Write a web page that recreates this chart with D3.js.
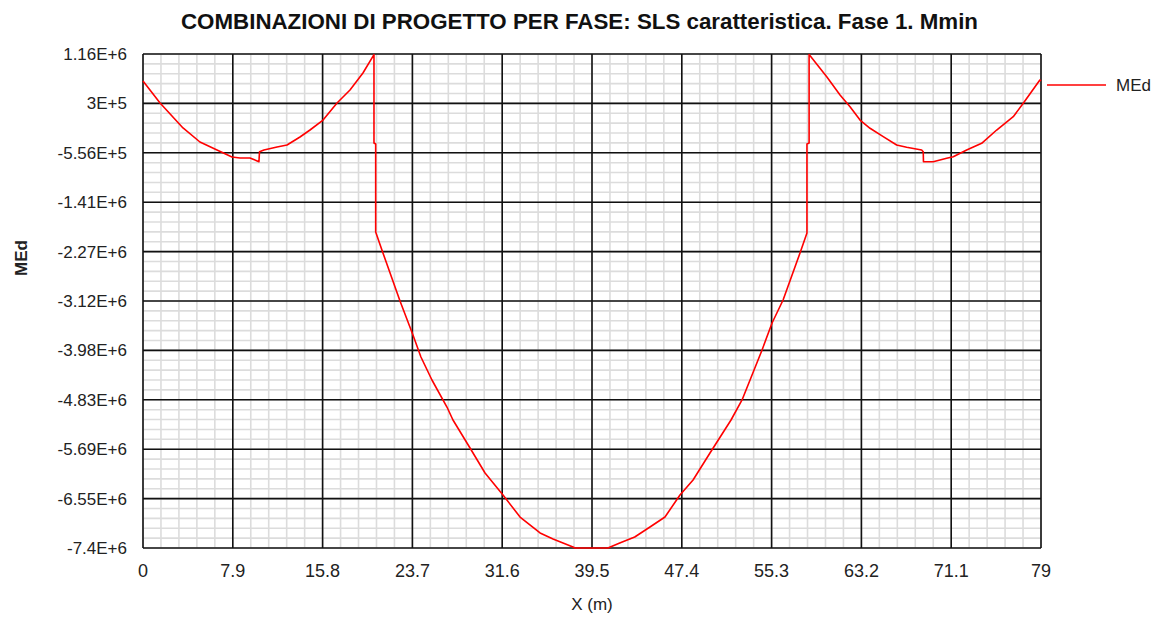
<!DOCTYPE html>
<html>
<head>
<meta charset="utf-8">
<script src="https://cdn.jsdelivr.net/npm/d3@7"></script>
<style>
  html, body { margin: 0; padding: 0; background: #fff; }
  svg { display: block; }
  text { font-family: "Liberation Sans", Arial, sans-serif; }
</style>
</head>
<body>
<svg id="chart" width="1165" height="617"></svg>
<script>
const titleText = "COMBINAZIONI DI PROGETTO PER FASE:  SLS caratteristica. Fase 1. Mmin";
const xLabel = "X (m)";
const yLabel = "MEd";
const seriesName = "MEd";

const xDomain = [0, 79];
const yDomain = [-7.4e6, 1.16e6];
const xTickLabels = ["0", "7.9", "15.8", "23.7", "31.6", "39.5", "47.4", "55.3", "63.2", "71.1", "79"];
const yTickLabels = ["-7.4E+6", "-6.55E+6", "-5.69E+6", "-4.83E+6", "-3.98E+6", "-3.12E+6", "-2.27E+6", "-1.41E+6", "-5.56E+5", "3E+5", "1.16E+6"];

const xVals = [
  0, 1.50, 2.55, 3.52, 5.01, 6.51, 7.83, 8.53, 9.41, 10.20, 10.25, 10.64, 11.79, 12.67, 13.81, 14.69, 15.84, 17.07, 18.21, 19.35, 20.32,
  20.32, 20.47, 20.47, 21.11, 22.61, 23.75, 24.45, 25.42, 26.74, 27.27, 28.77, 30.09, 31.67, 33.17, 34.93, 36.07, 37.83, 38.00,
  40.90, 41.94, 43.26, 44.60, 45.92, 47.24, 48.39, 49.88, 51.73, 52.70, 54.46, 55.34, 56.31, 57.80, 58.41, 58.41, 58.60,
  58.60, 60.15, 61.32, 62.20, 63.08, 63.96, 65.12, 66.30, 67.18, 68.50, 68.64, 68.66, 69.52, 70.70, 71.28, 72.46, 73.78, 75.10, 76.56, 77.44, 78.90, 79
];
const medVals = [
  692e3, 311e3, 86e3, -122e3, -365e3, -503e3, -625e3, -642e3, -642e3, -706e3, -533e3, -503e3, -451e3, -417e3, -278e3, -157e3, 16e3, 311e3, 536e3, 831e3, 1.15e6,
  -382e3, -400e3, -1924e3, -2288e3, -3120e3, -3709e3, -4090e3, -4489e3, -4957e3, -5182e3, -5667e3, -6100e3, -6482e3, -6863e3, -7140e3, -7244e3, -7383e3, -7400e3,
  -7400e3, -7313e3, -7209e3, -7036e3, -6863e3, -6482e3, -6222e3, -5754e3, -5182e3, -4835e3, -3969e3, -3501e3, -3103e3, -2288e3, -1942e3, -400e3, -382e3,
  1.15e6, 767e3, 450e3, 247e3, 16e3, -127e3, -273e3, -417e3, -457e3, -503e3, -533e3, -706e3, -706e3, -647e3, -620e3, -503e3, -387e3, -157e3, 74e3, 306e3, 710e3, 692e3
];

const svg = d3.select("#chart");
const x = d3.scaleLinear().domain(xDomain).range([143, 1041]);
const y = d3.scaleLinear().domain(yDomain).range([548, 54]);

const xMajor = d3.range(xTickLabels.length).map(i => xDomain[0] + i * (xDomain[1] - xDomain[0]) / (xTickLabels.length - 1));
const yMajor = d3.range(yTickLabels.length).map(i => yDomain[0] + i * (yDomain[1] - yDomain[0]) / (yTickLabels.length - 1));
const xMinor = d3.range(51).map(i => xDomain[0] + i * (xDomain[1] - xDomain[0]) / 50);
const yMinor = d3.range(51).map(i => yDomain[0] + i * (yDomain[1] - yDomain[0]) / 50);

const g = svg.append("g");
// minor grid
g.selectAll(".vx").data(xMinor).join("line")
  .attr("x1", d => x(d)).attr("x2", d => x(d)).attr("y1", y.range()[0]).attr("y2", y.range()[1])
  .attr("stroke", "#dcdcdc").attr("stroke-width", 1.6);
g.selectAll(".hy").data(yMinor).join("line")
  .attr("y1", d => y(d)).attr("y2", d => y(d)).attr("x1", x.range()[0]).attr("x2", x.range()[1])
  .attr("stroke", "#dcdcdc").attr("stroke-width", 1.6);
// major grid
g.selectAll(".mx").data(xMajor).join("line")
  .attr("x1", d => x(d)).attr("x2", d => x(d)).attr("y1", y.range()[0]).attr("y2", y.range()[1])
  .attr("stroke", "#111").attr("stroke-width", 1.6);
g.selectAll(".my").data(yMajor).join("line")
  .attr("y1", d => y(d)).attr("y2", d => y(d)).attr("x1", x.range()[0]).attr("x2", x.range()[1])
  .attr("stroke", "#111").attr("stroke-width", 1.6);

// tick labels
svg.selectAll(".xt").data(xMajor).join("text")
  .attr("x", d => x(d)).attr("y", 577)
  .attr("text-anchor", "middle").attr("font-size", 18).attr("fill", "#222")
  .text((d, i) => xTickLabels[i]);
svg.selectAll(".yt").data(yMajor).join("text")
  .attr("x", 127).attr("y", d => y(d) + 6)
  .attr("text-anchor", "end").attr("font-size", 17).attr("fill", "#222")
  .text((d, i) => yTickLabels[i]);

// line
const line = d3.line().x((d, i) => x(xVals[i])).y((d, i) => y(medVals[i]));
svg.append("path").datum(medVals)
  .attr("d", line).attr("fill", "none").attr("stroke", "#ff0000").attr("stroke-width", 1.6)
  .attr("stroke-linejoin", "round");

// title
svg.append("text").attr("x", 579.5).attr("y", 29).attr("text-anchor", "middle")
  .attr("font-size", 21.5).attr("font-weight", "bold").attr("fill", "#111")
  .attr("textLength", 797).attr("lengthAdjust", "spacingAndGlyphs")
  .text(titleText);

// axis labels
svg.append("text").attr("x", 592).attr("y", 610).attr("text-anchor", "middle")
  .attr("font-size", 17).attr("fill", "#222").text(xLabel);
svg.append("text").attr("transform", "translate(27,258) rotate(-90)").attr("text-anchor", "middle")
  .attr("font-size", 17).attr("font-weight", "bold").attr("fill", "#222").text(yLabel);

// legend
svg.append("line").attr("x1", 1047).attr("x2", 1106).attr("y1", 85).attr("y2", 85)
  .attr("stroke", "#ff0000").attr("stroke-width", 1.6);
svg.append("text").attr("x", 1116).attr("y", 91).attr("font-size", 17).attr("fill", "#222").text(seriesName);
</script>
</body>
</html>
